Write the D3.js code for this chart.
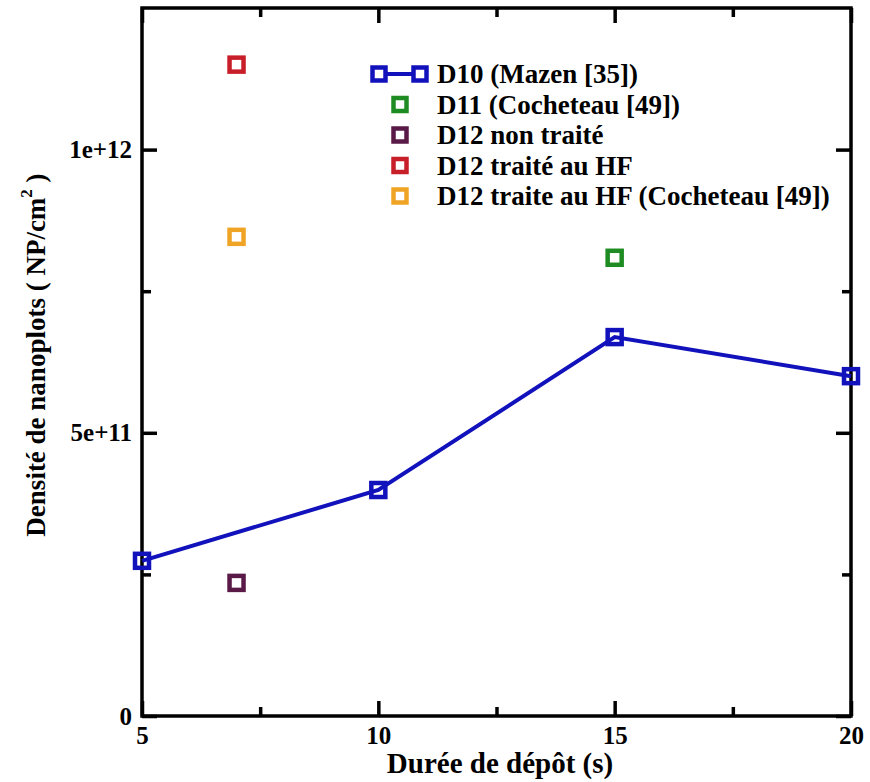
<!DOCTYPE html>
<html><head><meta charset="utf-8">
<script src="https://cdn.jsdelivr.net/npm/d3@7"></script>
<style>body{margin:0;background:#fff}svg{display:block}</style>
</head><body><svg id="c" width="870" height="782"></svg>
<script>
const xTicksMajor = [5, 10, 15, 20];
const xTicksMinor = [7.5, 12.5, 17.5];
const yTicksMajor = [0, 5e11, 1e12];
const yTickLabels = ["0", "5e+11", "1e+12"];
const yTicksMinor = [2.5e11, 7.5e11];
const d10X = [5, 10, 15, 20];
const d10Y = [2.74e11, 3.99e11, 6.69e11, 6.0e11];
const d11X = [15]; const d11Y = [8.09e11];
const d12nX = [7]; const d12nY = [2.35e11];
const d12hX = [7]; const d12hY = [1.15e12];
const d12cX = [7]; const d12cY = [8.46e11];
const legendLabels = ["D10 (Mazen [35])", "D11 (Cocheteau [49])", "D12 non traité", "D12 traité au HF", "D12 traite au HF (Cocheteau [49])"];
const colors = ["#1212bc", "#1e8c22", "#5a1a48", "#c81e2a", "#f0a426"];

const svg = d3.select("#c");
const L = 142, R = 851, T = 8, B = 716;
const x = d3.scaleLinear().domain([5, 20]).range([L, R]);
const y = d3.scaleLinear().domain([0, 1.25e12]).range([B, T]);
const FF = '"Liberation Serif"';
const styleText = sel => sel.style("font-family", FF).style("font-weight", "bold").attr("fill", "#000");

svg.append("rect").attr("x", L).attr("y", T).attr("width", R - L).attr("height", B - T)
  .attr("fill", "none").attr("stroke", "#000").attr("stroke-width", 3.5);

const ax = (sel, axis) => { sel.call(axis); sel.select(".domain").remove(); sel.selectAll("line").attr("stroke", "#000").attr("stroke-width", 3.5); };
const g = svg.append("g");
ax(g.append("g").attr("transform", `translate(0,${B})`), d3.axisBottom(x).tickValues(xTicksMajor).tickSize(-15).tickPadding(10).tickFormat(d3.format("d")));
ax(g.append("g").attr("transform", `translate(0,${B})`), d3.axisBottom(x).tickValues(xTicksMinor).tickSize(-9).tickFormat(""));
ax(g.append("g").attr("transform", `translate(0,${T})`), d3.axisTop(x).tickValues(xTicksMajor).tickSize(-15).tickFormat(""));
ax(g.append("g").attr("transform", `translate(0,${T})`), d3.axisTop(x).tickValues(xTicksMinor).tickSize(-9).tickFormat(""));
ax(g.append("g").attr("transform", `translate(${L},0)`), d3.axisLeft(y).tickValues(yTicksMajor).tickSize(-15).tickPadding(10).tickFormat((d, i) => yTickLabels[i]));
ax(g.append("g").attr("transform", `translate(${L},0)`), d3.axisLeft(y).tickValues(yTicksMinor).tickSize(-9).tickFormat(""));
ax(g.append("g").attr("transform", `translate(${R},0)`), d3.axisRight(y).tickValues(yTicksMajor).tickSize(-15).tickFormat(""));
ax(g.append("g").attr("transform", `translate(${R},0)`), d3.axisRight(y).tickValues(yTicksMinor).tickSize(-9).tickFormat(""));
styleText(g.selectAll("text")).style("font-size", "25px");

styleText(svg.append("text").attr("x", 500).attr("y", 773).attr("text-anchor", "middle"))
  .style("font-size", "29px").text("Durée de dépôt (s)");
const yl = styleText(svg.append("text").attr("transform", "translate(45,355) rotate(-90)").attr("text-anchor", "middle"))
  .style("font-size", "27px");
yl.append("tspan").text("Densité de nanoplots ( NP/cm");
yl.append("tspan").attr("dy", -13).style("font-size", "17px").text("2");
yl.append("tspan").attr("dy", 13).text(" )");

const line = d3.line().x(d => x(d[0])).y(d => y(d[1]));
const d10 = d10X.map((v, i) => [v, d10Y[i]]);
svg.append("path").datum(d10).attr("d", line).attr("fill", "none").attr("stroke", colors[0]).attr("stroke-width", 4);
const S = 14, SW = 4.5;
const series = [[d10X, d10Y], [d11X, d11Y], [d12nX, d12nY], [d12hX, d12hY], [d12cX, d12cY]];
series.forEach(([xs, ys], k) => {
  svg.append("g").selectAll("rect").data(xs.map((v, i) => [v, ys[i]])).join("rect")
    .attr("x", d => x(d[0]) - S / 2).attr("y", d => y(d[1]) - S / 2)
    .attr("width", S).attr("height", S).attr("fill", "none")
    .attr("stroke", colors[k]).attr("stroke-width", SW);
});

const lg = svg.append("g");
const ly0 = 74, ldy = 30.5, LS = 13;
legendLabels.forEach((lab, i) => {
  const yy = ly0 + i * ldy;
  if (i === 0) {
    lg.append("line").attr("x1", 379).attr("x2", 420).attr("y1", yy).attr("y2", yy).attr("stroke", colors[0]).attr("stroke-width", 4);
    [379, 420].forEach(cx => lg.append("rect").attr("x", cx - LS / 2).attr("y", yy - LS / 2).attr("width", LS).attr("height", LS)
      .attr("fill", "#fff").attr("stroke", colors[0]).attr("stroke-width", SW));
  } else {
    lg.append("rect").attr("x", 400 - LS / 2).attr("y", yy - LS / 2).attr("width", LS).attr("height", LS)
      .attr("fill", "none").attr("stroke", colors[i]).attr("stroke-width", SW);
  }
  styleText(lg.append("text").attr("x", 437).attr("y", yy + 9)).style("font-size", "27px").text(lab);
});
</script></body></html>
